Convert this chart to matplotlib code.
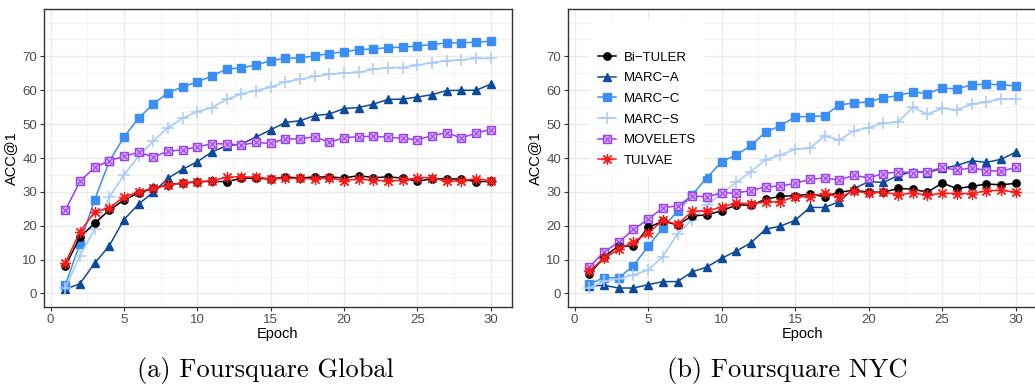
import numpy as np
import matplotlib
matplotlib.use("Agg")
import matplotlib.pyplot as plt
from matplotlib.legend_handler import HandlerTuple

epochs = list(range(1, 31))

# Foursquare Global
glob_bituler = [8.1, 16.6, 20.7, 24.6, 27.6, 29.7, 31.0, 32.1, 32.6, 33.0, 33.1, 33.0, 34.0, 34.0, 33.8,
                34.4, 34.1, 34.4, 34.4, 34.1, 34.8, 34.2, 34.4, 34.1, 33.1, 33.9, 33.8, 33.8, 33.0, 33.1]
glob_marc_a = [1.2, 2.9, 8.9, 14.1, 21.8, 26.4, 29.9, 34.0, 36.7, 38.9, 41.8, 43.6, 44.1, 46.2, 48.3,
               50.5, 51.0, 52.5, 53.0, 54.6, 54.9, 55.9, 57.3, 57.4, 58.0, 58.7, 59.9, 60.0, 60.0, 61.8]
glob_marc_c = [2.5, 14.7, 27.7, 39.0, 46.2, 51.8, 55.9, 59.3, 61.0, 62.5, 64.2, 66.3, 66.6, 67.5, 68.7,
               69.5, 69.5, 70.2, 70.8, 71.4, 72.0, 72.2, 72.6, 72.7, 73.1, 73.5, 74.0, 74.0, 74.2, 74.5]
glob_marc_s = [1.5, 11.2, 19.0, 28.4, 35.0, 40.5, 45.0, 49.0, 51.7, 53.7, 54.9, 57.3, 58.9, 59.9, 60.9,
               62.5, 63.2, 64.1, 64.7, 65.1, 65.3, 66.2, 66.7, 66.7, 67.4, 68.2, 68.7, 69.0, 69.4, 69.4]
glob_movelets = [24.5, 33.1, 37.2, 39.2, 40.5, 41.7, 40.3, 42.0, 42.4, 43.3, 44.2, 44.2, 43.8, 44.6, 44.3,
                 45.7, 45.6, 46.3, 44.6, 46.0, 46.3, 46.4, 46.1, 45.8, 45.4, 46.6, 47.5, 45.9, 47.4, 48.4]
glob_tulvae = [9.0, 18.2, 24.1, 25.3, 28.5, 30.0, 31.1, 31.9, 32.7, 32.9, 33.3, 34.3, 34.5, 34.3, 33.9,
               34.0, 34.0, 33.9, 34.1, 33.3, 33.8, 33.4, 33.3, 33.4, 34.2, 34.2, 33.1, 33.3, 33.9, 33.3]

# Foursquare NYC
nyc_bituler = [5.7, 10.7, 14.1, 13.9, 19.5, 21.3, 20.3, 22.9, 23.2, 24.4, 26.1, 26.1, 27.8, 28.7, 28.9,
               29.3, 28.6, 29.9, 30.5, 29.9, 29.9, 31.0, 30.8, 29.9, 32.6, 31.0, 31.6, 32.3, 32.1, 32.5]
nyc_marc_a = [2.2, 2.4, 1.6, 1.6, 2.6, 3.5, 3.5, 6.4, 7.8, 10.4, 12.5, 15.0, 19.0, 19.9, 21.6,
              25.4, 25.4, 27.1, 31.0, 33.0, 32.8, 34.8, 36.0, 35.7, 36.9, 37.8, 39.2, 38.7, 39.6, 41.7]
nyc_marc_c = [2.7, 4.7, 4.6, 8.2, 13.9, 19.4, 24.3, 29.2, 34.2, 38.9, 40.9, 43.7, 47.7, 49.5, 52.2,
              52.2, 52.5, 55.7, 56.2, 56.6, 57.8, 58.4, 59.5, 59.0, 60.7, 60.4, 61.6, 61.8, 61.6, 61.3]
nyc_marc_s = [1.6, 3.6, 4.3, 5.5, 6.9, 10.9, 17.6, 21.8, 26.0, 29.6, 32.8, 36.0, 39.5, 40.9, 42.6,
              42.9, 46.5, 45.3, 48.0, 49.0, 50.3, 50.6, 55.0, 52.9, 54.7, 54.2, 55.9, 56.5, 57.5, 57.3]
nyc_movelets = [7.8, 12.3, 15.1, 18.9, 21.9, 25.3, 25.9, 28.7, 28.6, 29.6, 29.7, 30.4, 31.5, 31.7, 32.5,
                33.7, 34.1, 33.5, 34.9, 34.1, 35.4, 35.9, 35.7, 35.9, 37.2, 36.4, 37.1, 36.3, 36.1, 37.2]
nyc_tulvae = [6.6, 10.4, 13.0, 15.3, 17.8, 21.6, 20.4, 24.3, 24.4, 25.5, 26.7, 26.5, 27.0, 27.1, 28.6,
              28.6, 29.6, 28.4, 30.3, 29.6, 30.0, 29.1, 29.7, 29.0, 29.6, 29.5, 29.5, 30.3, 30.5, 29.9]

labels = ["Bi\u2212TULER", "MARC\u2212A", "MARC\u2212C", "MARC\u2212S", "MOVELETS", "TULVAE"]
colors = ["#000000", "#0D4A9C", "#3A8EF5", "#A8CBF8", "#9B3DF5", "#FF1A1A"]

plt.rcParams["font.family"] = ["Liberation Sans", "DejaVu Sans"]

W, H = 1035, 387
fig = plt.figure(figsize=(W / 100, H / 100), dpi=100)
ax1 = fig.add_axes([44 / W, 1 - 307 / H, (512 - 44) / W, (307 - 9) / H])
ax2 = fig.add_axes([568 / W, 1 - 307 / H, (1037 - 568) / W, (307 - 9) / H])


def draw(ax, series):
    handles = []
    for y, lab, c in zip(series, labels, colors):
        if lab == "MOVELETS":
            h1 = ax.plot(epochs, y, color=c, lw=1.1, marker="s", ms=5.8, mfc="#D9B8FB",
                         mec=c, mew=1.0, zorder=3)[0]
            h2 = ax.plot(epochs, y, ls="none", marker="x", ms=4.2, mec=c, mew=0.8, zorder=4)[0]
            h = (h1, h2)
        elif lab == "MARC\u2212S":
            h = ax.plot(epochs, y, color=c, lw=1.2, marker="+", ms=8, mew=1.1, zorder=3)[0]
        elif lab == "TULVAE":
            h = ax.plot(epochs, y, color=c, lw=1.1, marker=(8, 2, 0), ms=8, mew=0.9, zorder=5)[0]
        elif lab == "MARC\u2212C":
            h = ax.plot(epochs, y, color=c, lw=1.1, marker="s", ms=5.8, zorder=3)[0]
        elif lab == "MARC\u2212A":
            h = ax.plot(epochs, y, color=c, lw=1.1, marker="^", ms=6.3, zorder=3)[0]
        else:
            h = ax.plot(epochs, y, color=c, lw=1.1, marker="o", ms=5.3, zorder=4)[0]
        handles.append(h)

    ax.set_xlim(-0.45, 31.45)
    ax.set_ylim(-4, 84)
    ax.set_xticks(range(0, 31, 5))
    ax.set_yticks(range(0, 71, 10))
    ax.set_xticks(np.arange(2.5, 31, 5), minor=True)
    ax.set_yticks(list(range(5, 80, 10)) + [80], minor=True)
    ax.grid(which="major", color="#EBEBEB", lw=1.0)
    ax.grid(which="minor", color="#F2F2F2", lw=0.6)
    ax.tick_params(which="minor", length=0)
    ax.tick_params(which="major", length=3, color="#333333", labelsize=9.5,
                   labelcolor="#4D4D4D", pad=2)
    ax.set_axisbelow(True)
    for s in ax.spines.values():
        s.set_color("#333333")
        s.set_linewidth(1.0)
    ax.set_xlabel("Epoch", fontsize=10.5, labelpad=1)
    ax.set_ylabel("ACC@1", fontsize=10.5, labelpad=3)
    return handles


draw(ax1, [glob_bituler, glob_marc_a, glob_marc_c, glob_marc_s, glob_movelets, glob_tulvae])
hs = draw(ax2, [nyc_bituler, nyc_marc_a, nyc_marc_c, nyc_marc_s, nyc_movelets, nyc_tulvae])

leg = ax2.legend(hs, labels, loc="upper left", bbox_to_anchor=(0.047, 0.96),
                 borderaxespad=0, title=" ", title_fontsize=10,
                 frameon=True, fancybox=False, edgecolor="white", facecolor="white",
                 framealpha=1.0, fontsize=9.5, labelspacing=0.64, handlelength=1.35,
                 borderpad=0.6, handletextpad=0.6,
                 handler_map={tuple: HandlerTuple(ndivide=1, pad=0)})

fig.text(265 / W, 1 - 370 / H, "(a) Foursquare Global", fontsize=19, family="cmr10",
         ha="center", va="center")
fig.text(787 / W, 1 - 370 / H, "(b) Foursquare NYC", fontsize=19, family="cmr10",
         ha="center", va="center")

fig.savefig("out.png", dpi=100)
